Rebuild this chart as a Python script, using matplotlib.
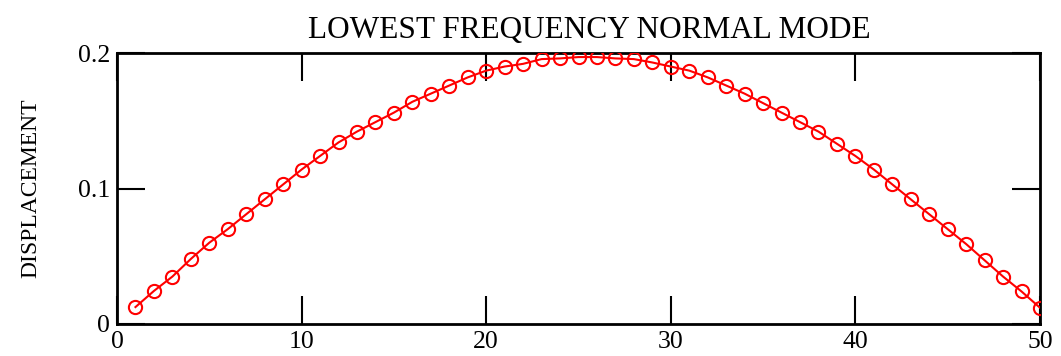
import matplotlib
matplotlib.use("Agg")
import matplotlib.pyplot as plt

# mass index along the chain and its displacement in the lowest mode
site = list(range(1, 51))
displacement = [
    0.0125, 0.0244, 0.035, 0.048, 0.060, 0.070, 0.081, 0.092, 0.103, 0.114,
    0.124, 0.134, 0.142, 0.149, 0.156, 0.164, 0.170, 0.176, 0.182, 0.187,
    0.190, 0.192, 0.1955, 0.196, 0.197, 0.197, 0.196, 0.1955, 0.193, 0.190,
    0.187, 0.182, 0.176, 0.170, 0.163, 0.156, 0.149, 0.142, 0.133, 0.124,
    0.114, 0.103, 0.092, 0.081, 0.070, 0.059, 0.047, 0.035, 0.024, 0.012,
]
xticks = [0, 10, 20, 30, 40, 50]
yticks = [0, 0.1, 0.2]
ytick_labels = ["0", "0.1", "0.2"]

plt.rcParams["font.family"] = ["Liberation Serif", "DejaVu Serif"]

fig = plt.figure(figsize=(10.61, 3.56), dpi=100)
ax = fig.add_axes([117 / 1061, 1 - 324 / 356, (1040 - 117) / 1061, (324 - 53) / 356])

ax.plot(site, displacement, color="red", lw=1.5, marker="o", ms=9.5,
        mfc="none", mec="red", mew=1.5, zorder=3)

ax.set_xlim(0, 50)
ax.set_ylim(0, 0.2)
ax.set_xticks(xticks)
ax.set_yticks(yticks)
ax.set_yticklabels(ytick_labels)
ax.tick_params(direction="in", length=20, width=1.5, top=True, right=True,
               labelsize=18.5, pad=5)
for sp in ax.spines.values():
    sp.set_linewidth(2)

ax.set_ylabel("DISPLACEMENT", fontsize=17, labelpad=26)
ax.set_title("LOWEST FREQUENCY NORMAL MODE", fontsize=22.5, pad=11, x=0.512)

fig.savefig("out.png", dpi=100)
